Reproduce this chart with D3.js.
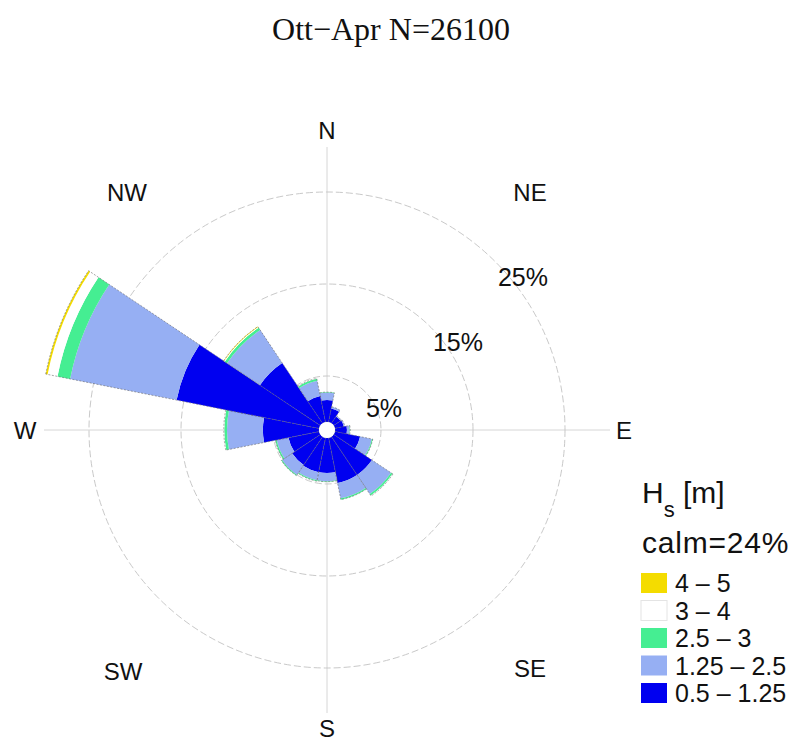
<!DOCTYPE html>
<html>
<head>
<meta charset="utf-8">
<script src="https://cdn.jsdelivr.net/npm/d3@7"></script>
<style>
  html, body { margin: 0; padding: 0; background: #fff; }
  svg { display: block; }
</style>
</head>
<body>
<svg id="chart" width="802" height="740"></svg>
<script>
// Wave rose: significant wave height (Hs) by direction, October–April
const directions = ["N","NNE","NE","ENE","E","ESE","SE","SSE","S","SSW","SW","WSW","W","WNW","NW","NNW"];

// Frequency (%) per direction for each Hs class
const hs_0_5_1_25 = [2.4, 1.5, 0.9, 1.0, 1.3, 2.8, 5.0, 5.0, 3.8, 3.8, 3.7, 3.4, 6.1, 15.8, 7.9, 2.9];
const hs_1_25_2_5 = [0.8, 0.2, 0.1, 0.1, 0.3, 1.3, 2.5, 1.7, 0.9, 0.9, 1.3, 1.3, 3.9, 11.8, 4.3, 1.7];
const hs_2_5_3    = [0.05, 0, 0, 0, 0.05, 0.1, 0.2, 0.15, 0.05, 0.1, 0.1, 0.15, 0.3, 1.4, 0.3, 0.2];
const hs_3_4      = [0, 0, 0, 0, 0, 0, 0.05, 0, 0, 0, 0, 0, 0.05, 1.1, 0.1, 0.05];
const hs_4_5      = [0, 0, 0, 0, 0, 0, 0, 0, 0, 0, 0, 0, 0, 0.2, 0.05, 0];

const classLabels = ["0.5 – 1.25", "1.25 – 2.5", "2.5 – 3", "3 – 4", "4 – 5"];
const classColors = ["#0000f0", "#96aff3", "#45ee92", "#ffffff", "#f4dc00"];
const classValues = [hs_0_5_1_25, hs_1_25_2_5, hs_2_5_3, hs_3_4, hs_4_5];

const ringTicks = [5, 15, 25];
const calmText = "calm=24%";
const titleText = "Ott−Apr N=26100";

const svg = d3.select("#chart");
const cx = 327, cy = 430;
const rMax = 283;

// radial scale: percent -> pixel radius, starting from the calm hole
const r = d3.scaleLinear().domain([0, 25]).range([8, 238]);
const sector = 2 * Math.PI / directions.length;

svg.append("text")
  .attr("x", 391).attr("y", 40)
  .attr("text-anchor", "middle")
  .attr("font-family", "Liberation Serif, serif")
  .attr("font-size", 32)
  .attr("fill", "#111")
  .text(titleText);

const g = svg.append("g").attr("transform", `translate(${cx},${cy})`);

// axis lines N–S and E–W
[[0, -rMax, 0, rMax], [-rMax, 0, rMax, 0]].forEach(([x1, y1, x2, y2]) => {
  g.append("line")
    .attr("x1", x1).attr("y1", y1).attr("x2", x2).attr("y2", y2)
    .attr("stroke", "#d6d6d6").attr("stroke-width", 1);
});

// dashed percentage rings
g.selectAll("circle.ring").data(ringTicks).join("circle")
  .attr("class", "ring")
  .attr("r", d => r(d))
  .attr("fill", "none")
  .attr("stroke", "#c9c9c9")
  .attr("stroke-width", 1)
  .attr("stroke-dasharray", "7,3");

// stacked petals
const arc = d3.arc();
const petals = directions.map((dir, i) => {
  let acc = 0;
  const bands = classValues.map((vals, k) => {
    const b = { k, inner: acc, outer: acc + vals[i] };
    acc += vals[i];
    return b;
  });
  return { dir, i, total: acc, bands };
});

petals.forEach(p => {
  const a0 = p.i * sector - sector / 2;
  const a1 = p.i * sector + sector / 2;
  p.bands.filter(b => b.outer > b.inner).forEach(b => {
    g.append("path")
      .attr("d", arc({ innerRadius: r(b.inner), outerRadius: r(b.outer), startAngle: a0, endAngle: a1 }))
      .attr("fill", classColors[b.k]);
  });
  g.append("path")
    .attr("d", arc({ innerRadius: r(0), outerRadius: r(p.total), startAngle: a0, endAngle: a1 }))
    .attr("fill", "none")
    .attr("stroke", "#6a6a6a")
    .attr("stroke-width", 0.6)
    .attr("stroke-dasharray", "2,1.5");
});

// calm hole
g.append("circle").attr("r", r(0)).attr("fill", "#fff");

// compass labels
const compass = [
  ["N", 0, -300], ["S", 0, 298], ["E", 297, 0], ["W", -302, 0],
  ["NW", -200, -238], ["NE", 203, -238], ["SW", -204, 241], ["SE", 203, 238]
];
g.selectAll("text.compass").data(compass).join("text")
  .attr("class", "compass")
  .attr("x", d => d[1]).attr("y", d => d[2])
  .attr("text-anchor", "middle")
  .attr("dominant-baseline", "central")
  .attr("font-family", "Liberation Sans, Arial, sans-serif")
  .attr("font-size", 24)
  .attr("fill", "#111")
  .text(d => d[0]);

// ring labels along the NE diagonal
const ringLabelPos = [[57, -22], [131, -88], [196, -153]];
g.selectAll("text.ringlab").data(ringTicks).join("text")
  .attr("class", "ringlab")
  .attr("x", (d, i) => ringLabelPos[i][0]).attr("y", (d, i) => ringLabelPos[i][1])
  .attr("text-anchor", "middle")
  .attr("dominant-baseline", "central")
  .attr("font-family", "Liberation Sans, Arial, sans-serif")
  .attr("font-size", 25)
  .attr("fill", "#111")
  .text(d => d + "%");

// legend
const lg = svg.append("g").attr("font-family", "Liberation Sans, Arial, sans-serif").attr("fill", "#111");
const hs = lg.append("text").attr("x", 642).attr("y", 503).attr("font-size", 30);
hs.append("tspan").text("H");
hs.append("tspan").attr("font-size", 22).attr("dy", 14).text("s");
hs.append("tspan").attr("dy", -14).text(" [m]");

lg.append("text").attr("x", 642).attr("y", 553).attr("font-size", 30)
  .attr("letter-spacing", 0.8).text(calmText);

const legendOrder = d3.range(classLabels.length).reverse();
const itemY = d3.scalePoint().domain(legendOrder).range([583, 693]);
legendOrder.forEach(k => {
  const y = itemY(k);
  lg.append("rect")
    .attr("x", 641).attr("y", y - 10).attr("width", 26).attr("height", 20)
    .attr("fill", classColors[k])
    .attr("stroke", k === 3 ? "#e4e4e4" : "none").attr("stroke-width", 1);
  lg.append("text")
    .attr("x", 675).attr("y", y)
    .attr("dominant-baseline", "central")
    .attr("font-size", 25)
    .text(classLabels[k]);
});
</script>
</body>
</html>
